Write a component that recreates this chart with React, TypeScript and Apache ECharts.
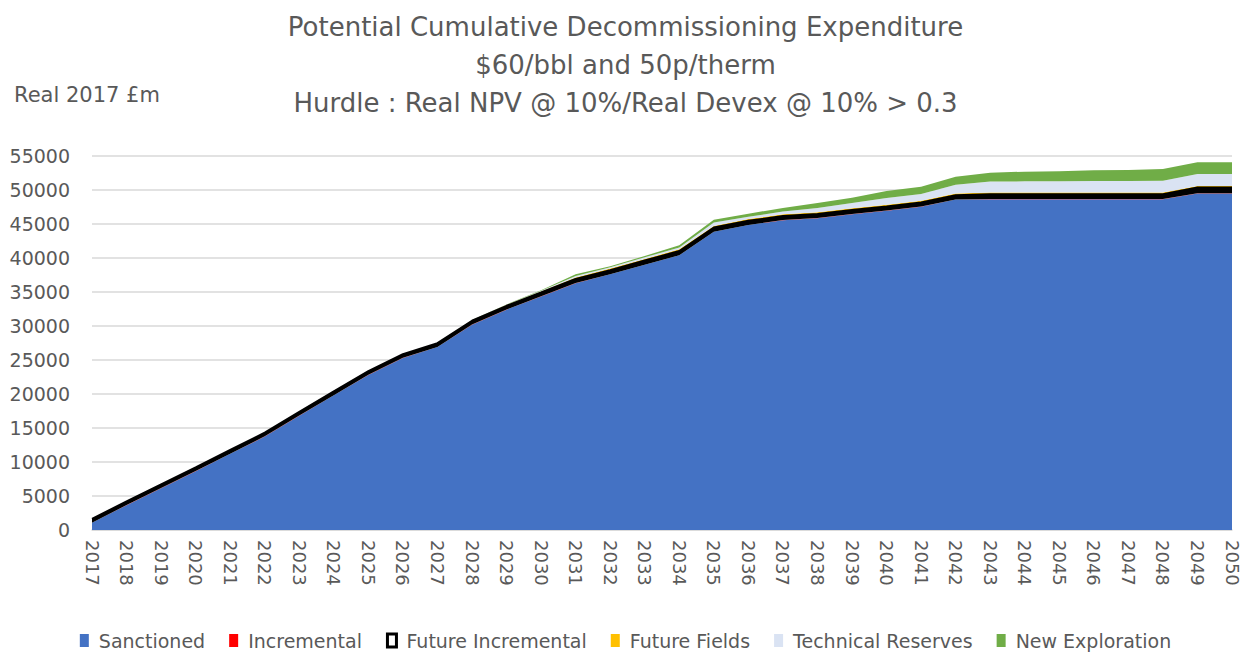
import React, { useEffect, useRef } from "react";
import * as echarts from "echarts";

const years = [
  "2017", "2018", "2019", "2020", "2021", "2022", "2023", "2024", "2025", "2026", "2027", "2028",
  "2029", "2030", "2031", "2032", "2033", "2034", "2035", "2036", "2037", "2038", "2039", "2040",
  "2041", "2042", "2043", "2044", "2045", "2046", "2047", "2048", "2049", "2050",
];

const sanctioned = [
  1050, 3650, 6150, 8650, 11200, 13750, 16800, 19800, 22800, 25300, 26900, 30200,
  32400, 34350, 36300, 37600, 39000, 40400, 43850, 44850, 45550, 45850, 46450, 46950,
  47550, 48600, 48650, 48650, 48650, 48650, 48650, 48650, 49500, 49500,
];
const incremental = [
  20, 20, 20, 20, 20, 20, 20, 20, 20, 20, 20, 20,
  20, 20, 20, 20, 20, 20, 20, 20, 20, 20, 20, 20,
  20, 20, 20, 20, 20, 20, 20, 20, 20, 20,
];
const futureIncremental = [
  550, 550, 550, 550, 550, 550, 550, 550, 550, 550, 550, 550,
  550, 550, 600, 600, 600, 600, 600, 600, 600, 600, 600, 600,
  600, 600, 700, 700, 700, 700, 700, 700, 850, 850,
];
const futureFields = [
  0, 0, 0, 0, 0, 0, 0, 0, 0, 0, 0, 50,
  100, 150, 200, 250, 250, 250, 250, 250, 250, 250, 250, 250,
  250, 250, 250, 250, 250, 250, 250, 250, 200, 200,
];
const technicalReserves = [
  0, 0, 0, 0, 0, 0, 0, 0, 0, 0, 0, 30,
  60, 100, 250, 180, 230, 290, 490, 350, 400, 650, 750, 1000,
  1000, 1300, 1620, 1650, 1650, 1700, 1700, 1750, 1800, 1800,
];
const newExploration = [
  0, 0, 0, 0, 0, 0, 0, 0, 0, 0, 0, 30,
  40, 80, 230, 150, 200, 300, 420, 450, 550, 730, 790, 1030,
  1070, 1190, 1310, 1430, 1480, 1580, 1630, 1730, 1700, 1700,
];

const FONT = "'DejaVu Sans', sans-serif";
const GREY = "#595959";

export default function App() {
  const ref = useRef<HTMLDivElement>(null);
  useEffect(() => {
    document.body.style.margin = "0";
    const chart = echarts.init(ref.current!, null, { renderer: "svg" });
    const mk = (name: string, data: number[], color: string, extra: any = {}) => ({
      name,
      type: "line",
      stack: "total",
      data,
      symbol: "none",
      showSymbol: false,
      lineStyle: { width: 0, opacity: 0 },
      areaStyle: { color, opacity: 1 },
      itemStyle: { color },
      emphasis: { disabled: true },
      ...extra,
    });
    chart.setOption({
      animation: false,
      textStyle: { fontFamily: FONT },
      title: {
        text:
          "Potential Cumulative Decommissioning Expenditure\n$60/bbl and 50p/therm\nHurdle : Real NPV @ 10%/Real Devex @ 10% > 0.3",
        left: "center",
        top: 3,
        textStyle: { fontFamily: FONT, fontSize: 26, fontWeight: "normal", color: GREY, lineHeight: 38 },
      },
      graphic: [
        {
          type: "text",
          left: 14,
          top: 84,
          style: { text: "Real 2017 £m", fontFamily: FONT, fontSize: 21, fill: GREY },
        },
      ],
      legend: {
        bottom: -2,
        left: "center",
        itemWidth: 9,
        itemHeight: 13,
        itemGap: 24,
        icon: "rect",
        textStyle: { fontFamily: FONT, fontSize: 19, color: GREY, padding: [0, 0, 0, 5] },
        data: [
          { name: "Sanctioned" },
          { name: "Incremental" },
          { name: "Future Incremental", itemStyle: { color: "#ffffff", borderColor: "#000000", borderWidth: 3 } },
          { name: "Future Fields" },
          { name: "Technical Reserves" },
          { name: "New Exploration" },
        ],
      },
      grid: { left: 92, right: 19, top: 156, bottom: 123, containLabel: false },
      xAxis: {
        type: "category",
        data: years,
        boundaryGap: false,
        axisLine: { lineStyle: { color: "#d9d9d9", width: 1.5 } },
        axisTick: { show: false },
        axisLabel: { rotate: -90, fontSize: 18, color: GREY, margin: 10, interval: 0, fontFamily: FONT },
      },
      yAxis: {
        type: "value",
        min: 0,
        max: 55000,
        interval: 5000,
        axisLine: { show: false },
        axisTick: { show: false },
        axisLabel: {
          fontSize: 19,
          color: GREY,
          margin: 22,
          fontFamily: FONT,
          formatter: (v: number) => String(v),
        },
        splitLine: { lineStyle: { color: "#d9d9d9", width: 1.5 } },
      },
      series: [
        mk("Sanctioned", sanctioned, "#4472C4"),
        mk("Incremental", incremental, "#FF0000"),
        mk("Future Incremental", futureIncremental, "#000000", {
          lineStyle: { width: 2, color: "#000000" },
        }),
        mk("Future Fields", futureFields, "#FFC000"),
        mk("Technical Reserves", technicalReserves, "#DAE3F3"),
        mk("New Exploration", newExploration, "#70AD47"),
      ],
    });
    return () => chart.dispose();
  }, []);
  return <div ref={ref} style={{ width: 1251, height: 653 }} />;
}
